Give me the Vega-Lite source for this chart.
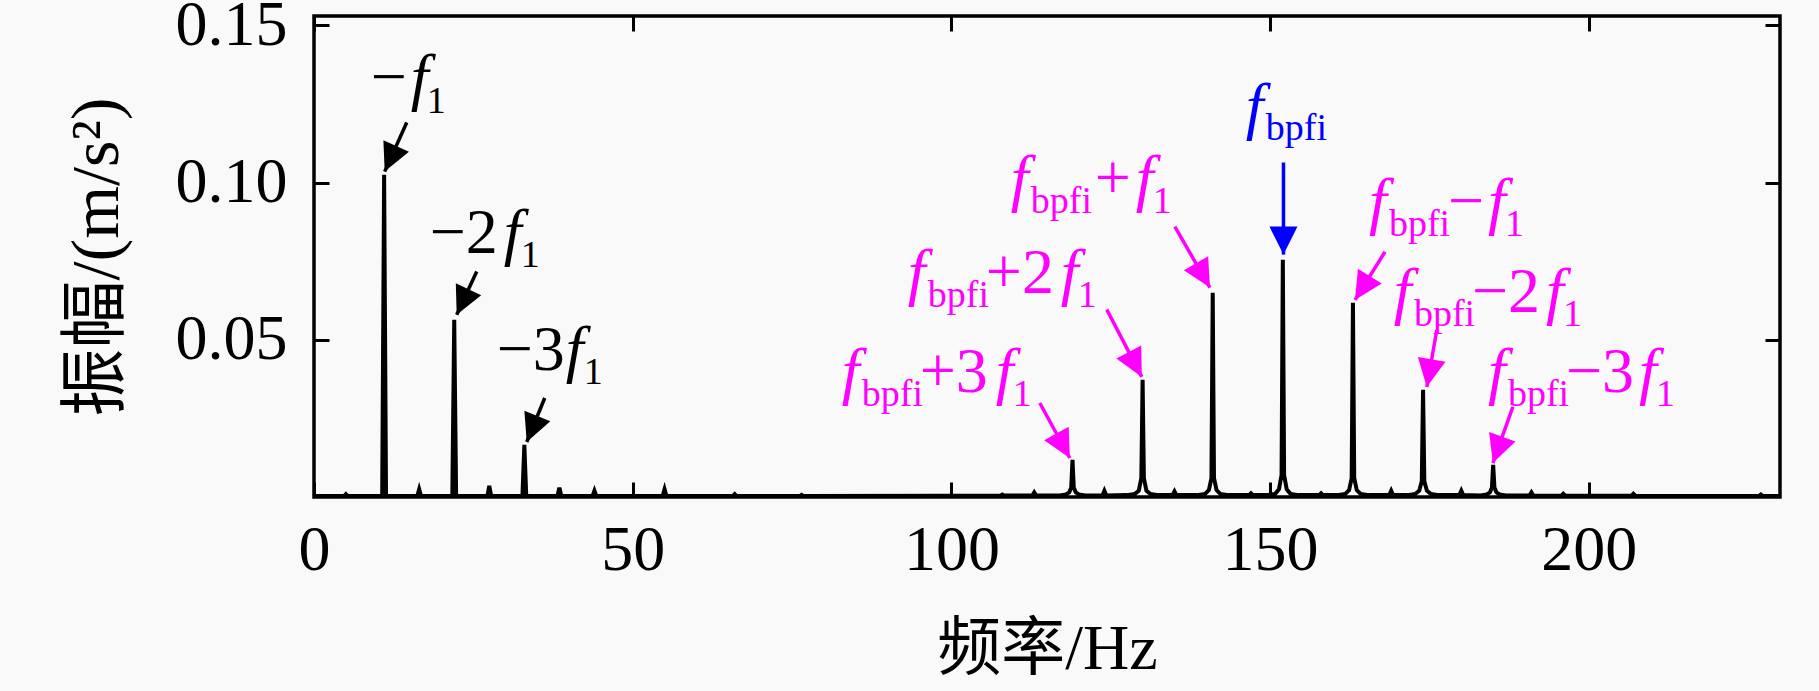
{
  "$schema": "https://vega.github.io/schema/vega-lite/v6.json",
  "width": 1466,
  "height": 481,
  "autosize": "none",
  "padding": {"left": 314, "top": 16, "right": 39, "bottom": 194},
  "background": "#f9f9f9",
  "config": {
    "view": {"stroke": "#000000", "strokeWidth": 3.5},
    "font": "Liberation Serif",
    "axis": {
      "labelFont": "Liberation Serif",
      "labelFontSize": 64,
      "labelColor": "#000000",
      "labelFlush": false,
      "titleFont": "Liberation Serif, Noto Sans CJK SC",
      "titleFontSize": 64,
      "titleFontWeight": "normal",
      "titleColor": "#000000",
      "tickColor": "#000000",
      "tickWidth": 3,
      "tickSize": -15,
      "domain": false,
      "grid": false
    }
  },
  "datasets": {
    "spectrum": [
      {"f": 0, "a": 0.0003},
      {"f": 4.7, "a": 0.0003}, {"f": 5, "a": 0.0009}, {"f": 5.3, "a": 0.0003},
      {"f": 10.7, "a": 0.0003}, {"f": 11, "a": 0.1025}, {"f": 11.3, "a": 0.0003},
      {"f": 16.2, "a": 0.0003}, {"f": 16.5, "a": 0.0025}, {"f": 16.8, "a": 0.0003},
      {"f": 21.7, "a": 0.0003}, {"f": 22, "a": 0.0564}, {"f": 22.3, "a": 0.0003},
      {"f": 27.2, "a": 0.0003}, {"f": 27.5, "a": 0.0035}, {"f": 27.8, "a": 0.0003},
      {"f": 32.7, "a": 0.0003}, {"f": 33, "a": 0.0166}, {"f": 33.3, "a": 0.0003},
      {"f": 38.2, "a": 0.0003}, {"f": 38.5, "a": 0.003}, {"f": 38.8, "a": 0.0003},
      {"f": 43.7, "a": 0.0003}, {"f": 44, "a": 0.002}, {"f": 44.3, "a": 0.0003},
      {"f": 54.7, "a": 0.0003}, {"f": 55, "a": 0.0025}, {"f": 55.3, "a": 0.0003},
      {"f": 65.7, "a": 0.0003}, {"f": 66, "a": 0.0009}, {"f": 66.3, "a": 0.0003},
      {"f": 76.2, "a": 0.0003}, {"f": 76.5, "a": 0.0007}, {"f": 76.8, "a": 0.0003},
      {"f": 100, "a": 0.0004},
      {"f": 107.7, "a": 0.0004}, {"f": 108, "a": 0.0008}, {"f": 108.3, "a": 0.0005},
      {"f": 112.7, "a": 0.0005}, {"f": 113, "a": 0.0015}, {"f": 113.3, "a": 0.0005},
      {"f": 117, "a": 0.0005}, {"f": 118, "a": 0.0008}, {"f": 118.5, "a": 0.0015}, {"f": 118.8, "a": 0.003},
      {"f": 119, "a": 0.0118},
      {"f": 119.2, "a": 0.003}, {"f": 119.5, "a": 0.0015}, {"f": 120, "a": 0.0008}, {"f": 121, "a": 0.0005},
      {"f": 123.7, "a": 0.0005}, {"f": 124, "a": 0.002}, {"f": 124.3, "a": 0.0005},
      {"f": 127.5, "a": 0.0006}, {"f": 128.8, "a": 0.001}, {"f": 129.4, "a": 0.002}, {"f": 129.8, "a": 0.006},
      {"f": 130, "a": 0.0373},
      {"f": 130.2, "a": 0.006}, {"f": 130.6, "a": 0.002}, {"f": 131.2, "a": 0.001}, {"f": 132.5, "a": 0.0006},
      {"f": 134.7, "a": 0.0006}, {"f": 135, "a": 0.0018}, {"f": 135.3, "a": 0.0006},
      {"f": 138.5, "a": 0.0006}, {"f": 139.8, "a": 0.001}, {"f": 140.4, "a": 0.0022}, {"f": 140.8, "a": 0.006},
      {"f": 141, "a": 0.065},
      {"f": 141.2, "a": 0.006}, {"f": 141.6, "a": 0.0022}, {"f": 142.2, "a": 0.001}, {"f": 143.5, "a": 0.0006},
      {"f": 146.7, "a": 0.0006}, {"f": 147, "a": 0.0012}, {"f": 147.3, "a": 0.0006},
      {"f": 149.5, "a": 0.0006}, {"f": 150.8, "a": 0.001}, {"f": 151.4, "a": 0.0025}, {"f": 151.8, "a": 0.007},
      {"f": 152, "a": 0.0755},
      {"f": 152.2, "a": 0.007}, {"f": 152.6, "a": 0.0025}, {"f": 153.2, "a": 0.001}, {"f": 154.5, "a": 0.0006},
      {"f": 157.7, "a": 0.0006}, {"f": 158, "a": 0.0012}, {"f": 158.3, "a": 0.0006},
      {"f": 160.5, "a": 0.0006}, {"f": 161.8, "a": 0.001}, {"f": 162.4, "a": 0.0022}, {"f": 162.8, "a": 0.006},
      {"f": 163, "a": 0.0618},
      {"f": 163.2, "a": 0.006}, {"f": 163.6, "a": 0.0022}, {"f": 164.2, "a": 0.001}, {"f": 165.5, "a": 0.0006},
      {"f": 168.7, "a": 0.0006}, {"f": 169, "a": 0.002}, {"f": 169.3, "a": 0.0006},
      {"f": 171.5, "a": 0.0006}, {"f": 172.8, "a": 0.001}, {"f": 173.4, "a": 0.002}, {"f": 173.8, "a": 0.005},
      {"f": 174, "a": 0.0341},
      {"f": 174.2, "a": 0.005}, {"f": 174.6, "a": 0.002}, {"f": 175.2, "a": 0.001}, {"f": 176.5, "a": 0.0006},
      {"f": 179.7, "a": 0.0006}, {"f": 180, "a": 0.002}, {"f": 180.3, "a": 0.0006},
      {"f": 183, "a": 0.0005}, {"f": 184, "a": 0.0008}, {"f": 184.5, "a": 0.0015}, {"f": 184.8, "a": 0.003},
      {"f": 185, "a": 0.0102},
      {"f": 185.2, "a": 0.003}, {"f": 185.5, "a": 0.0015}, {"f": 186, "a": 0.0008}, {"f": 187, "a": 0.0005},
      {"f": 190.7, "a": 0.0005}, {"f": 191, "a": 0.0015}, {"f": 191.3, "a": 0.0005},
      {"f": 195.7, "a": 0.0004}, {"f": 196, "a": 0.001}, {"f": 196.3, "a": 0.0004},
      {"f": 206.7, "a": 0.0004}, {"f": 207, "a": 0.001}, {"f": 207.3, "a": 0.0004},
      {"f": 215, "a": 0.0003},
      {"f": 226.7, "a": 0.0003}, {"f": 227, "a": 0.0008}, {"f": 227.3, "a": 0.0003},
      {"f": 230, "a": 0.0003}
    ],
    "arrows": [
      {"g": "low", "x": 14.55, "y": 0.1191, "x2": 11.09, "y2": 0.1035, "angle": 24.2},
      {"g": "low", "x": 25.53, "y": 0.0717, "x2": 22.39, "y2": 0.058, "angle": 24.9},
      {"g": "low", "x": 36.2, "y": 0.0315, "x2": 33.38, "y2": 0.0175, "angle": 22.2},
      {"g": "center", "x": 152.1, "y": 0.1064, "x2": 152.1, "y2": 0.0771, "angle": 0},
      {"g": "side", "x": 135.06, "y": 0.086, "x2": 140.56, "y2": 0.0666, "angle": -29.8},
      {"g": "side", "x": 124.38, "y": 0.0596, "x2": 129.87, "y2": 0.0382, "angle": -27.6},
      {"g": "side", "x": 113.87, "y": 0.0299, "x2": 118.58, "y2": 0.0124, "angle": -28.6},
      {"g": "side", "x": 168.03, "y": 0.078, "x2": 163.32, "y2": 0.0627, "angle": 32},
      {"g": "side", "x": 176.16, "y": 0.0532, "x2": 174.59, "y2": 0.035, "angle": 10},
      {"g": "side", "x": 188.09, "y": 0.0287, "x2": 184.95, "y2": 0.0108, "angle": 19.7}
    ],
    "labels": [
      {"g": "low", "k": "op", "t": "−", "x": 8.9, "y": 0.1268},
      {"g": "low", "k": "fi", "t": "f", "x": 15.17, "y": 0.1268},
      {"g": "low", "k": "sub", "t": "1", "x": 17.68, "y": 0.1223},
      {"g": "low", "k": "op", "t": "−2", "x": 18.15, "y": 0.0777},
      {"g": "low", "k": "fi", "t": "f", "x": 29.76, "y": 0.0777},
      {"g": "low", "k": "sub", "t": "1", "x": 32.43, "y": 0.0732},
      {"g": "low", "k": "op", "t": "−3", "x": 28.67, "y": 0.0404},
      {"g": "low", "k": "fi", "t": "f", "x": 39.49, "y": 0.0404},
      {"g": "low", "k": "sub", "t": "1", "x": 42.31, "y": 0.036},
      {"g": "center", "k": "fi", "t": "f", "x": 146.19, "y": 0.1178},
      {"g": "center", "k": "sub", "t": "bpfi", "x": 149.33, "y": 0.1134},
      {"g": "side", "k": "fi", "t": "f", "x": 82.8, "y": 0.0334},
      {"g": "side", "k": "sub", "t": "bpfi", "x": 85.94, "y": 0.029},
      {"g": "side", "k": "op", "t": "+3", "x": 95.04, "y": 0.0334},
      {"g": "side", "k": "fi", "t": "f", "x": 106.97, "y": 0.0334},
      {"g": "side", "k": "sub", "t": "1", "x": 109.64, "y": 0.029},
      {"g": "side", "k": "fi", "t": "f", "x": 93.16, "y": 0.065},
      {"g": "side", "k": "sub", "t": "bpfi", "x": 96.3, "y": 0.0605},
      {"g": "side", "k": "op", "t": "+2", "x": 105.4, "y": 0.065},
      {"g": "side", "k": "fi", "t": "f", "x": 117.17, "y": 0.065},
      {"g": "side", "k": "sub", "t": "1", "x": 119.83, "y": 0.0605},
      {"g": "side", "k": "fi", "t": "f", "x": 109.31, "y": 0.0949},
      {"g": "side", "k": "sub", "t": "bpfi", "x": 112.45, "y": 0.0904},
      {"g": "side", "k": "op", "t": "+", "x": 122.5, "y": 0.0949},
      {"g": "side", "k": "fi", "t": "f", "x": 128.93, "y": 0.0949},
      {"g": "side", "k": "sub", "t": "1", "x": 131.59, "y": 0.0904},
      {"g": "side", "k": "fi", "t": "f", "x": 165.5, "y": 0.0876},
      {"g": "side", "k": "sub", "t": "bpfi", "x": 168.64, "y": 0.0831},
      {"g": "side", "k": "op", "t": "−", "x": 177.9, "y": 0.0876},
      {"g": "side", "k": "fi", "t": "f", "x": 184.18, "y": 0.0876},
      {"g": "side", "k": "sub", "t": "1", "x": 186.85, "y": 0.0831},
      {"g": "side", "k": "fi", "t": "f", "x": 169.42, "y": 0.0589},
      {"g": "side", "k": "sub", "t": "bpfi", "x": 172.56, "y": 0.0545},
      {"g": "side", "k": "op", "t": "−2", "x": 181.66, "y": 0.0589},
      {"g": "side", "k": "fi", "t": "f", "x": 193.27, "y": 0.0589},
      {"g": "side", "k": "sub", "t": "1", "x": 195.94, "y": 0.0545},
      {"g": "side", "k": "fi", "t": "f", "x": 184.18, "y": 0.0334},
      {"g": "side", "k": "sub", "t": "bpfi", "x": 187.32, "y": 0.029},
      {"g": "side", "k": "op", "t": "−3", "x": 196.42, "y": 0.0334},
      {"g": "side", "k": "fi", "t": "f", "x": 207.88, "y": 0.0334},
      {"g": "side", "k": "sub", "t": "1", "x": 210.54, "y": 0.029}
    ]
  },
  "layer": [
    {
      "data": {"name": "spectrum"},
      "mark": {"type": "line", "color": "#000000", "strokeWidth": 4},
      "encoding": {
        "x": {
          "field": "f", "type": "quantitative",
          "scale": {"domain": [0, 230], "nice": false, "zero": false},
          "axis": {"orient": "bottom", "values": [0, 50, 100, 150, 200], "labelPadding": 36, "title": "频率/Hz", "titlePadding": 35}
        },
        "y": {
          "field": "a", "type": "quantitative",
          "scale": {"domain": [0, 0.153], "nice": false, "zero": false},
          "axis": {"orient": "left", "values": [0.05, 0.1, 0.15], "format": ".2f", "labelPadding": 42, "title": "振幅/(m/s²)", "titleFontSize": 68, "titlePadding": 44}
        }
      }
    },
    {
      "data": {"name": "arrows"},
      "mark": {"type": "rule", "strokeWidth": 3.5},
      "encoding": {
        "x": {"field": "x", "type": "quantitative", "axis": {"orient": "top", "values": [0, 50, 100, 150, 200], "labels": false, "title": null}},
        "y": {"field": "y", "type": "quantitative", "axis": {"orient": "right", "values": [0.05, 0.1, 0.15], "labels": false, "title": null}},
        "x2": {"field": "x2"},
        "y2": {"field": "y2"},
        "color": {"field": "g", "type": "nominal", "scale": {"domain": ["low", "center", "side"], "range": ["#000000", "#0000ff", "#ff00ff"]}, "legend": null}
      }
    },
    {
      "data": {"name": "arrows"},
      "mark": {"type": "point", "shape": "M0,0L-0.5,-1L0.5,-1Z", "filled": true, "size": 3136, "opacity": 1, "strokeWidth": 0},
      "encoding": {
        "x": {"field": "x2", "type": "quantitative", "axis": null},
        "y": {"field": "y2", "type": "quantitative", "axis": null},
        "angle": {"field": "angle", "type": "quantitative", "scale": null},
        "color": {"field": "g", "type": "nominal", "scale": {"domain": ["low", "center", "side"], "range": ["#000000", "#0000ff", "#ff00ff"]}, "legend": null}
      }
    },
    {
      "data": {"name": "labels"},
      "transform": [{"filter": "datum.k === 'fi'"}],
      "mark": {"type": "text", "font": "Liberation Serif", "fontStyle": "italic", "fontSize": 64, "align": "left", "baseline": "alphabetic"},
      "encoding": {
        "x": {"field": "x", "type": "quantitative", "axis": null},
        "y": {"field": "y", "type": "quantitative", "axis": null},
        "text": {"field": "t"},
        "color": {"field": "g", "type": "nominal", "scale": {"domain": ["low", "center", "side"], "range": ["#000000", "#0000ff", "#ff00ff"]}, "legend": null}
      }
    },
    {
      "data": {"name": "labels"},
      "transform": [{"filter": "datum.k === 'op'"}],
      "mark": {"type": "text", "font": "Liberation Serif", "fontSize": 64, "align": "left", "baseline": "alphabetic"},
      "encoding": {
        "x": {"field": "x", "type": "quantitative", "axis": null},
        "y": {"field": "y", "type": "quantitative", "axis": null},
        "text": {"field": "t"},
        "color": {"field": "g", "type": "nominal", "scale": {"domain": ["low", "center", "side"], "range": ["#000000", "#0000ff", "#ff00ff"]}, "legend": null}
      }
    },
    {
      "data": {"name": "labels"},
      "transform": [{"filter": "datum.k === 'sub'"}],
      "mark": {"type": "text", "font": "Liberation Serif", "fontSize": 38, "align": "left", "baseline": "alphabetic"},
      "encoding": {
        "x": {"field": "x", "type": "quantitative", "axis": null},
        "y": {"field": "y", "type": "quantitative", "axis": null},
        "text": {"field": "t"},
        "color": {"field": "g", "type": "nominal", "scale": {"domain": ["low", "center", "side"], "range": ["#000000", "#0000ff", "#ff00ff"]}, "legend": null}
      }
    }
  ],
  "resolve": {"axis": {"x": "independent", "y": "independent"}}
}
